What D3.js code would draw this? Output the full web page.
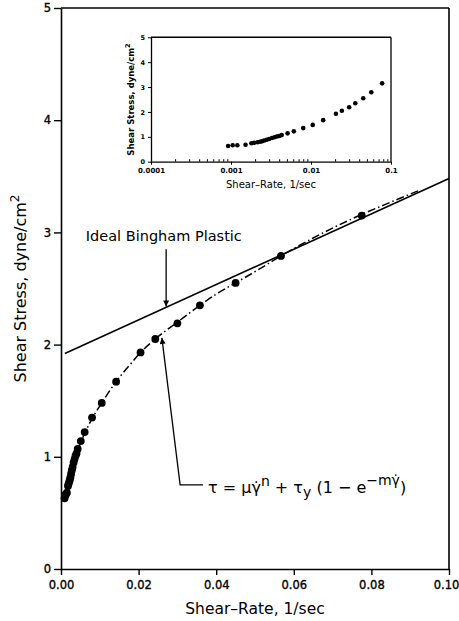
<!DOCTYPE html>
<html>
<head>
<meta charset="utf-8">
<script src="https://cdn.jsdelivr.net/npm/d3@7"></script>
<style>
  html, body { margin: 0; padding: 0; background: #fff; }
  svg { display: block; }
</style>
</head>
<body>
<svg id="chart" width="459" height="621"></svg>
<script>
// ---------------- data ----------------
const shearRate = [0.00092,0.00105,0.00120,0.00152,0.00180,0.00195,0.00215,0.00231,0.00245,0.00260,0.00280,0.00300,0.00325,0.00350,0.00375,0.00400,0.00430,0.0051,0.0061,0.0080,0.0105,0.0142,0.0205,0.0243,0.0300,0.0358,0.0450,0.0567,0.0775];
const shearStress = [0.63,0.66,0.66,0.68,0.74,0.76,0.78,0.80,0.82,0.85,0.88,0.91,0.95,0.98,1.01,1.03,1.07,1.14,1.22,1.35,1.48,1.67,1.93,2.05,2.19,2.35,2.55,2.79,3.15];

// fitted model curve (dash-dot)
const fitRate   = [0.001,0.002,0.003,0.004,0.005,0.006,0.008,0.0105,0.014,0.018,0.0205,0.0243,0.030,0.0358,0.040,0.045,0.050,0.0567,0.065,0.0775,0.085,0.092];
const fitStress = [0.64,0.77,0.91,1.03,1.12,1.20,1.34,1.48,1.66,1.83,1.93,2.05,2.20,2.35,2.45,2.55,2.65,2.79,2.95,3.16,3.27,3.37];

// ideal Bingham plastic line
const binghamRate   = [0.001, 0.1];
const binghamStress = [1.92, 3.48];

// ticks
const xTicks = [0, 0.02, 0.04, 0.06, 0.08, 0.10];
const xTickLabels = ["0.00","0.02","0.04","0.06","0.08","0.10"];
const yTicks = [0, 1, 2, 3, 4, 5];
const yTickLabels = ["0","1","2","3","4","5"];
const insetXTicks = [0.0001, 0.001, 0.01, 0.1];
const insetXTickLabels = ["0.0001","0.001","0.01","0.1"];
const insetYTicks = [0, 1, 2, 3, 4, 5];
const insetYTickLabels = ["0","1","2","3","4","5"];

// ---------------- drawing ----------------
const svg = d3.select("#chart");
const FONT = "'DejaVu Sans', sans-serif";

const x = d3.scaleLinear().domain([0, 0.1]).range([61, 449]);
const y = d3.scaleLinear().domain([0, 5]).range([569, 8]);

svg.append("defs").append("marker")
  .attr("id", "arrow")
  .attr("viewBox", "0 0 10 10")
  .attr("refX", 10).attr("refY", 5)
  .attr("markerWidth", 8).attr("markerHeight", 6)
  .attr("markerUnits", "userSpaceOnUse")
  .attr("orient", "auto")
  .append("path").attr("d", "M0,0 L10,5 L0,10 z").attr("fill", "#000");

// x axis
const gx = svg.append("g").attr("transform", `translate(0,${y(0)})`)
  .call(d3.axisBottom(x).tickValues(xTicks)
    .tickFormat((d, i) => xTickLabels[i]).tickSize(6).tickSizeOuter(0).tickPadding(6));
gx.select(".domain").attr("stroke-width", 1.6);
gx.selectAll(".tick line").attr("stroke-width", 1.4);
gx.selectAll(".tick text").attr("font-family", FONT).attr("font-size", 11.5)
  .attr("fill", "#000").attr("stroke", "#000").attr("stroke-width", 0.35);
// keep the last label inside the picture
gx.selectAll(".tick text").filter((d, i) => i === xTicks.length - 1).attr("dx", -3);

// y axis
const gy = svg.append("g").attr("transform", `translate(${x(0)},0)`)
  .call(d3.axisLeft(y).tickValues(yTicks)
    .tickFormat((d, i) => yTickLabels[i]).tickSize(7).tickSizeOuter(0).tickPadding(3));
gy.select(".domain").attr("stroke-width", 1.6);
gy.selectAll(".tick line").attr("stroke-width", 1.4);
gy.selectAll(".tick text").attr("font-family", FONT).attr("font-size", 11.5)
  .attr("fill", "#000").attr("stroke", "#000").attr("stroke-width", 0.35);

// frame top / right
svg.append("line").attr("x1", x(0)).attr("x2", x(0.1)).attr("y1", y(5)).attr("y2", y(5))
  .attr("stroke", "#000").attr("stroke-width", 1.6);
svg.append("line").attr("x1", x(0.1)).attr("x2", x(0.1)).attr("y1", y(5)).attr("y2", y(0))
  .attr("stroke", "#000").attr("stroke-width", 1.6);

// axis titles
svg.append("text").attr("x", (x(0) + x(0.1)) / 2).attr("y", 614)
  .attr("text-anchor", "middle").attr("font-family", FONT).attr("font-size", 15.5)
  .text("Shear\u2013Rate, 1/sec");
const yt = svg.append("text")
  .attr("transform", `translate(26,${(y(0) + y(5)) / 2}) rotate(-90)`)
  .attr("text-anchor", "middle").attr("font-family", FONT).attr("font-size", 16);
yt.append("tspan").text("Shear Stress, dyne/cm");
yt.append("tspan").attr("dy", -7).attr("font-size", 12).text("2");

// Bingham line
svg.append("path")
  .datum(binghamRate.map((r, i) => [r, binghamStress[i]]))
  .attr("d", d3.line().x(d => x(d[0])).y(d => y(d[1])))
  .attr("fill", "none").attr("stroke", "#000").attr("stroke-width", 1.6);

// fitted curve
svg.append("path")
  .datum(fitRate.map((r, i) => [r, fitStress[i]]))
  .attr("d", d3.line().curve(d3.curveMonotoneX).x(d => x(d[0])).y(d => y(d[1])))
  .attr("fill", "none").attr("stroke", "#000").attr("stroke-width", 1.5)
  .attr("stroke-dasharray", "8,3,1.5,3");

// data points
svg.append("g").selectAll("circle")
  .data(shearRate.map((r, i) => [r, shearStress[i]]))
  .join("circle")
  .attr("cx", d => x(d[0])).attr("cy", d => y(d[1])).attr("r", 3.9)
  .attr("fill", "#000");

// annotation: Ideal Bingham Plastic
svg.append("text").attr("x", x(0.0064)).attr("y", y(2.92))
  .attr("font-family", FONT).attr("font-size", 14.5).text("Ideal Bingham Plastic");
svg.append("line")
  .attr("x1", x(0.0271)).attr("y1", y(2.85))
  .attr("x2", x(0.0271)).attr("y2", y(2.34))
  .attr("stroke", "#000").attr("stroke-width", 1.3).attr("marker-end", "url(#arrow)");

// annotation: model equation
svg.append("path")
  .attr("d", `M${x(0.0366)},${y(0.75)} L${x(0.0307)},${y(0.75)} L${x(0.0260)},${y(2.06)}`)
  .attr("fill", "none").attr("stroke", "#000").attr("stroke-width", 1.3)
  .attr("marker-end", "url(#arrow)");
const eq = svg.append("text").attr("x", x(0.0379)).attr("y", y(0.68))
  .attr("font-family", FONT).attr("font-size", 16);
eq.append("tspan").text("\u03C4 = \u03BC\u03B3\u0307");
eq.append("tspan").attr("dy", -7).attr("font-size", 14).text("n");
eq.append("tspan").attr("dy", 7).text(" + \u03C4");
eq.append("tspan").attr("dy", 4).attr("font-size", 14).text("y");
eq.append("tspan").attr("dy", -4).text(" (1 \u2212 e");
eq.append("tspan").attr("dy", -8).attr("font-size", 14).text("\u2212m\u03B3\u0307");
eq.append("tspan").attr("dy", 8).text(")");

// ---------------- inset (log x) ----------------
const xi = d3.scaleLog().domain([0.0001, 0.1]).range([151, 391]);
const yi = d3.scaleLinear().domain([0, 5]).range([161.7, 37.3]);
const inset = svg.append("g");

// minor ticks (inside)
const minor = [];
[0.0001, 0.001, 0.01].forEach(dec => { for (let k = 2; k <= 9; k++) minor.push(dec * k); });
inset.append("g").attr("transform", `translate(0,${yi(0)})`)
  .call(d3.axisBottom(xi).tickValues(minor).tickSize(-2.5).tickFormat(""))
  .call(g => g.select(".domain").remove());

const gxi = inset.append("g").attr("transform", `translate(0,${yi(0)})`)
  .call(d3.axisBottom(xi).tickValues(insetXTicks)
    .tickFormat((d, i) => insetXTickLabels[i]).tickSize(3).tickSizeOuter(0).tickPadding(3));
gxi.select(".domain").attr("stroke-width", 1.3);
gxi.selectAll(".tick text").attr("font-family", FONT).attr("font-size", 7)
  .attr("font-weight", "bold").attr("fill", "#000");

const gyi = inset.append("g").attr("transform", `translate(${xi(0.0001)},0)`)
  .call(d3.axisLeft(yi).tickValues(insetYTicks)
    .tickFormat((d, i) => insetYTickLabels[i]).tickSize(3).tickSizeOuter(0).tickPadding(3));
gyi.select(".domain").attr("stroke-width", 1.3);
gyi.selectAll(".tick text").attr("font-family", FONT).attr("font-size", 6.5)
  .attr("font-weight", "bold").attr("fill", "#000");

inset.append("line").attr("x1", xi(0.0001)).attr("x2", xi(0.1)).attr("y1", yi(5)).attr("y2", yi(5))
  .attr("stroke", "#000").attr("stroke-width", 1.5);
inset.append("line").attr("x1", xi(0.1)).attr("x2", xi(0.1)).attr("y1", yi(5)).attr("y2", yi(0))
  .attr("stroke", "#000").attr("stroke-width", 1.3);

inset.append("text").attr("x", (xi(0.0001) + xi(0.1)) / 2).attr("y", 188)
  .attr("text-anchor", "middle").attr("font-family", FONT).attr("font-size", 10)
  .text("Shear\u2013Rate, 1/sec");
const yti = inset.append("text")
  .attr("transform", `translate(134,${(yi(0) + yi(5)) / 2}) rotate(-90)`)
  .attr("text-anchor", "middle").attr("font-family", FONT).attr("font-size", 8.5)
  .attr("font-weight", "bold");
yti.append("tspan").text("Shear Stress, dyne/cm");
yti.append("tspan").attr("dy", -4).attr("font-size", 6.5).text("2");

inset.append("g").selectAll("circle")
  .data(shearRate.map((r, i) => [r, shearStress[i]]))
  .join("circle")
  .attr("cx", d => xi(d[0])).attr("cy", d => yi(d[1])).attr("r", 2.3)
  .attr("fill", "#000");
</script>
</body>
</html>
